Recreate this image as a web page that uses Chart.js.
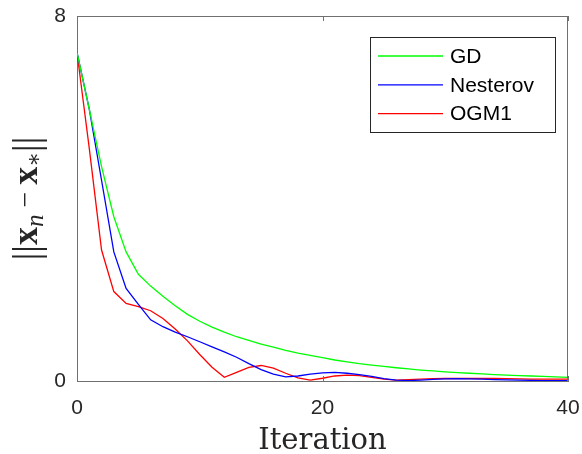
<!DOCTYPE html>
<html>
<head>
<meta charset="utf-8">
<script src="https://cdn.jsdelivr.net/npm/chart.js@4.4.0/dist/chart.umd.min.js"></script>
<style>
  html, body { margin: 0; padding: 0; background: #fff; }
  #wrap { width: 582px; height: 454px; }
</style>
</head>
<body>
<div id="wrap"><canvas id="chart" width="582" height="454"></canvas></div>
<script>
// values
const iterations = [0, 1, 2, 3, 4, 5, 6, 7, 8, 9, 10, 11, 12, 13, 14, 15, 16, 17, 18, 19, 20,
  21, 22, 23, 24, 25, 26, 27, 28, 29, 30, 31, 32, 33, 34, 35, 36, 37, 38, 39, 40];

const gd = [7.2, 5.96, 4.7, 3.6, 2.83, 2.34, 2.08, 1.86, 1.65, 1.46, 1.31, 1.18, 1.07, 0.97,
  0.89, 0.81, 0.74, 0.67, 0.61, 0.56, 0.51, 0.46, 0.42, 0.38, 0.35, 0.32, 0.29, 0.265, 0.24,
  0.22, 0.2, 0.185, 0.17, 0.155, 0.14, 0.13, 0.12, 0.11, 0.1, 0.09, 0.08];

const nesterov = [7.2, 5.96, 4.4, 2.83, 2.03, 1.68, 1.34, 1.19, 1.07, 0.97, 0.86, 0.75, 0.64,
  0.52, 0.38, 0.25, 0.15, 0.09, 0.11, 0.15, 0.18, 0.19, 0.17, 0.14, 0.1, 0.05, 0.02, 0.01, 0.02,
  0.035, 0.045, 0.05, 0.045, 0.04, 0.03, 0.025, 0.02, 0.015, 0.01, 0.01, 0.01];

const ogm1 = [7.2, 5.1, 2.87, 1.96, 1.7, 1.63, 1.54, 1.37, 1.14, 0.88, 0.58, 0.3, 0.08, 0.19,
  0.3, 0.34, 0.28, 0.17, 0.07, 0.02, 0.06, 0.11, 0.13, 0.12, 0.08, 0.04, 0.02, 0.03, 0.04, 0.05,
  0.055, 0.055, 0.055, 0.055, 0.055, 0.05, 0.045, 0.04, 0.04, 0.04, 0.04];

const seriesNames = ['GD', 'Nesterov', 'OGM1'];
const seriesColors = ['#00ff00', '#0000ff', '#ff0000'];
const xTicks = [0, 20, 40];
const yTicks = [0, 8];

const AXIS = '#707070';
const TEXT = '#262626';
const SANS = '"Liberation Sans", Arial, sans-serif';

function toPoints(values) {
  return values.map((v, i) => ({ x: iterations[i], y: v }));
}

// box, inward ticks, legend and the two axis titles
const decorations = {
  id: 'decorations',
  afterDraw(chart) {
    const { ctx, chartArea: a } = chart;
    const xs = chart.scales.x, ys = chart.scales.y;
    ctx.save();

    ctx.strokeStyle = AXIS;
    ctx.lineWidth = 1;
    ctx.beginPath();
    ctx.moveTo(a.left, a.top + 0.5); ctx.lineTo(a.right, a.top + 0.5);
    ctx.moveTo(a.right - 0.5, a.top); ctx.lineTo(a.right - 0.5, a.bottom);
    xTicks.forEach(t => {
      const px = Math.round(xs.getPixelForValue(t)) + 0.5;
      ctx.moveTo(px, a.bottom); ctx.lineTo(px, a.bottom - 5);
      ctx.moveTo(px, a.top); ctx.lineTo(px, a.top + 5);
    });
    yTicks.forEach(t => {
      const py = Math.round(ys.getPixelForValue(t)) + 0.5;
      ctx.moveTo(a.left, py); ctx.lineTo(a.left + 5, py);
      ctx.moveTo(a.right, py); ctx.lineTo(a.right - 5, py);
    });
    ctx.stroke();

    // legend
    const bx = a.right - 198, by = a.top + 21, bw = 185, bh = 95;
    ctx.fillStyle = '#fff';
    ctx.fillRect(bx, by, bw, bh);
    ctx.strokeStyle = TEXT;
    ctx.strokeRect(bx + 0.5, by + 0.5, bw, bh);
    ctx.font = '21px ' + SANS;
    ctx.textBaseline = 'middle';
    ctx.textAlign = 'left';
    chart.data.datasets.forEach((ds, i) => {
      const ry = by + 19 + i * 28.8;
      ctx.strokeStyle = ds.borderColor;
      ctx.lineWidth = 1.3;
      ctx.beginPath();
      ctx.moveTo(bx + 8, ry); ctx.lineTo(bx + 73, ry);
      ctx.stroke();
      ctx.fillStyle = '#000';
      ctx.fillText(ds.label, bx + 80, ry + 1);
    });

    // x title
    ctx.fillStyle = TEXT;
    ctx.font = '29px "DejaVu Serif", serif';
    ctx.textAlign = 'center';
    ctx.textBaseline = 'alphabetic';
    ctx.fillText('Iteration', (a.left + a.right) / 2, 449);

    // y title ||x_n - x_*||
    const bold = 'bold 36px "Liberation Serif", serif';
    const bars = '38px "Liberation Serif", serif';
    const parts = [
      { t: '||', f: bars, dy: 2 },
      { t: 'x', f: bold, dy: 0 },
      { t: 'n', f: 'italic 25px "Liberation Serif", serif', dy: 6 },
      { t: ' \u2212 ', f: '28px "Liberation Serif", serif', dy: -3 },
      { t: 'x', f: bold, dy: 0 },
      { t: '\u2217', f: '22px "DejaVu Serif", serif', dy: 4 },
      { t: '||', f: bars, dy: 2 }
    ];
    let total = 0;
    parts.forEach(p => { ctx.font = p.f; p.w = ctx.measureText(p.t).width; total += p.w; });
    ctx.translate(37, (a.top + a.bottom) / 2);
    ctx.rotate(-Math.PI / 2);
    ctx.textAlign = 'left';
    let cx = -total / 2;
    parts.forEach(p => {
      ctx.font = p.f;
      ctx.fillText(p.t, cx, p.dy);
      cx += p.w;
    });
    ctx.restore();
  }
};

new Chart(document.getElementById('chart'), {
  type: 'line',
  data: {
    datasets: [gd, nesterov, ogm1].map((vals, i) => ({
      label: seriesNames[i],
      data: toPoints(vals),
      borderColor: seriesColors[i],
      backgroundColor: seriesColors[i],
      borderWidth: 1.3,
      pointRadius: 0,
      tension: 0,
      fill: false
    }))
  },
  options: {
    responsive: false,
    animation: false,
    layout: { padding: { top: 16, right: 14, left: 0, bottom: 0 } },
    plugins: { legend: { display: false }, tooltip: { enabled: false } },
    scales: {
      x: {
        type: 'linear', min: 0, max: 40,
        afterFit: s => { s.height = 73; s.paddingLeft = 0; s.paddingRight = 0; },
        afterBuildTicks: s => { s.ticks = xTicks.map(v => ({ value: v })); },
        grid: { display: false },
        border: { display: true, color: AXIS, width: 1 },
        ticks: { color: TEXT, font: { family: SANS, size: 21 }, padding: 7, maxRotation: 0 }
      },
      y: {
        min: 0, max: 8,
        afterFit: s => { s.width = 77; s.paddingTop = 0; s.paddingBottom = 0; },
        afterBuildTicks: s => { s.ticks = yTicks.map(v => ({ value: v })); },
        grid: { display: false },
        border: { display: true, color: AXIS, width: 1 },
        ticks: { color: TEXT, font: { family: SANS, size: 21 }, padding: 3 }
      }
    }
  },
  plugins: [decorations]
});
</script>
</body>
</html>
